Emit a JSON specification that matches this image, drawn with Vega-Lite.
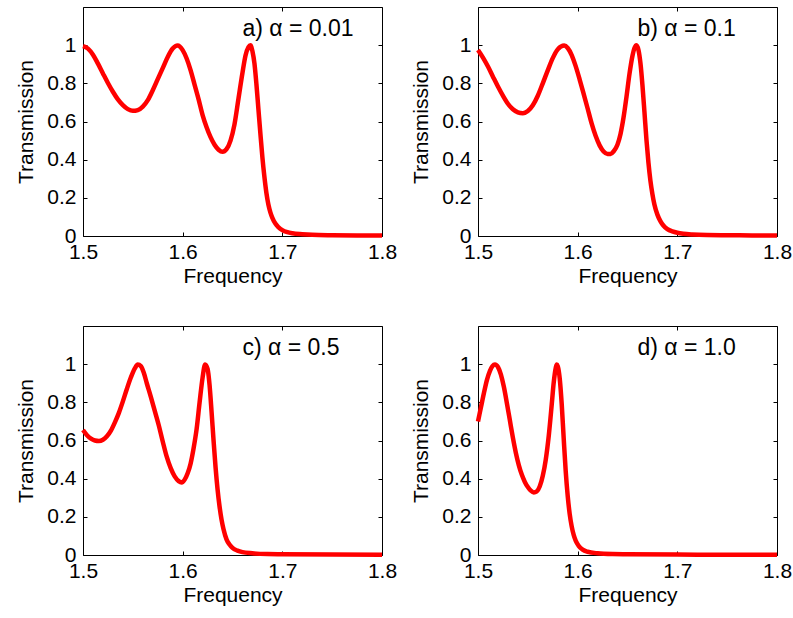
{
  "$schema": "https://vega.github.io/schema/vega-lite/v6.json",
  "background": "white",
  "padding": {"left": 15, "top": 6, "right": 5, "bottom": 5},
  "datasets": {
    "a": [{"f":1.500,"t":0.995},{"f":1.505,"t":0.982},{"f":1.510,"t":0.950},{"f":1.515,"t":0.903},{"f":1.520,"t":0.852},{"f":1.525,"t":0.802},{"f":1.530,"t":0.756},{"f":1.535,"t":0.716},{"f":1.540,"t":0.686},{"f":1.545,"t":0.665},{"f":1.550,"t":0.656},{"f":1.555,"t":0.660},{"f":1.560,"t":0.678},{"f":1.565,"t":0.712},{"f":1.570,"t":0.764},{"f":1.575,"t":0.822},{"f":1.580,"t":0.880},{"f":1.585,"t":0.938},{"f":1.590,"t":0.982},{"f":1.595,"t":0.998},{"f":1.600,"t":0.974},{"f":1.604,"t":0.930},{"f":1.608,"t":0.868},{"f":1.612,"t":0.792},{"f":1.616,"t":0.716},{"f":1.620,"t":0.634},{"f":1.624,"t":0.570},{"f":1.628,"t":0.518},{"f":1.632,"t":0.478},{"f":1.636,"t":0.452},{"f":1.640,"t":0.441},{"f":1.644,"t":0.455},{"f":1.648,"t":0.500},{"f":1.652,"t":0.585},{"f":1.656,"t":0.720},{"f":1.660,"t":0.855},{"f":1.663,"t":0.945},{"f":1.666,"t":0.990},{"f":1.668,"t":1.000},{"f":1.670,"t":0.968},{"f":1.672,"t":0.905},{"f":1.674,"t":0.795},{"f":1.676,"t":0.665},{"f":1.678,"t":0.535},{"f":1.680,"t":0.412},{"f":1.682,"t":0.310},{"f":1.684,"t":0.226},{"f":1.686,"t":0.165},{"f":1.688,"t":0.124},{"f":1.690,"t":0.095},{"f":1.693,"t":0.065},{"f":1.696,"t":0.047},{"f":1.700,"t":0.031},{"f":1.705,"t":0.020},{"f":1.710,"t":0.014},{"f":1.720,"t":0.009},{"f":1.730,"t":0.006},{"f":1.750,"t":0.004},{"f":1.775,"t":0.003},{"f":1.800,"t":0.002}],
    "b": [{"f":1.500,"t":0.975},{"f":1.505,"t":0.935},{"f":1.510,"t":0.888},{"f":1.515,"t":0.835},{"f":1.520,"t":0.783},{"f":1.525,"t":0.735},{"f":1.530,"t":0.693},{"f":1.535,"t":0.664},{"f":1.540,"t":0.648},{"f":1.545,"t":0.643},{"f":1.550,"t":0.655},{"f":1.555,"t":0.685},{"f":1.560,"t":0.735},{"f":1.565,"t":0.800},{"f":1.570,"t":0.868},{"f":1.575,"t":0.932},{"f":1.580,"t":0.978},{"f":1.5865,"t":0.998},{"f":1.590,"t":0.985},{"f":1.594,"t":0.948},{"f":1.598,"t":0.890},{"f":1.602,"t":0.820},{"f":1.606,"t":0.745},{"f":1.610,"t":0.668},{"f":1.614,"t":0.590},{"f":1.618,"t":0.525},{"f":1.622,"t":0.475},{"f":1.626,"t":0.443},{"f":1.630,"t":0.430},{"f":1.633,"t":0.430},{"f":1.636,"t":0.443},{"f":1.640,"t":0.480},{"f":1.643,"t":0.535},{"f":1.646,"t":0.620},{"f":1.649,"t":0.730},{"f":1.652,"t":0.850},{"f":1.655,"t":0.945},{"f":1.657,"t":0.985},{"f":1.659,"t":1.000},{"f":1.661,"t":0.975},{"f":1.663,"t":0.905},{"f":1.665,"t":0.790},{"f":1.667,"t":0.650},{"f":1.669,"t":0.505},{"f":1.671,"t":0.385},{"f":1.673,"t":0.290},{"f":1.675,"t":0.220},{"f":1.677,"t":0.165},{"f":1.680,"t":0.112},{"f":1.683,"t":0.078},{"f":1.686,"t":0.055},{"f":1.690,"t":0.036},{"f":1.695,"t":0.024},{"f":1.700,"t":0.017},{"f":1.706,"t":0.012},{"f":1.715,"t":0.008},{"f":1.730,"t":0.005},{"f":1.750,"t":0.004},{"f":1.775,"t":0.003},{"f":1.800,"t":0.002}],
    "c": [{"f":1.500,"t":0.655},{"f":1.504,"t":0.628},{"f":1.508,"t":0.610},{"f":1.512,"t":0.600},{"f":1.516,"t":0.597},{"f":1.520,"t":0.604},{"f":1.524,"t":0.622},{"f":1.528,"t":0.652},{"f":1.532,"t":0.695},{"f":1.536,"t":0.745},{"f":1.540,"t":0.805},{"f":1.544,"t":0.870},{"f":1.548,"t":0.930},{"f":1.552,"t":0.978},{"f":1.555,"t":0.998},{"f":1.558,"t":0.990},{"f":1.561,"t":0.955},{"f":1.564,"t":0.900},{"f":1.568,"t":0.830},{"f":1.572,"t":0.755},{"f":1.576,"t":0.680},{"f":1.580,"t":0.595},{"f":1.584,"t":0.515},{"f":1.588,"t":0.455},{"f":1.592,"t":0.412},{"f":1.596,"t":0.387},{"f":1.599,"t":0.380},{"f":1.602,"t":0.395},{"f":1.605,"t":0.428},{"f":1.608,"t":0.480},{"f":1.611,"t":0.560},{"f":1.614,"t":0.660},{"f":1.617,"t":0.800},{"f":1.620,"t":0.930},{"f":1.6225,"t":0.998},{"f":1.625,"t":0.975},{"f":1.627,"t":0.890},{"f":1.629,"t":0.750},{"f":1.631,"t":0.600},{"f":1.633,"t":0.460},{"f":1.635,"t":0.345},{"f":1.637,"t":0.255},{"f":1.639,"t":0.185},{"f":1.641,"t":0.135},{"f":1.644,"t":0.082},{"f":1.647,"t":0.055},{"f":1.650,"t":0.037},{"f":1.655,"t":0.023},{"f":1.660,"t":0.015},{"f":1.670,"t":0.009},{"f":1.685,"t":0.005},{"f":1.700,"t":0.004},{"f":1.750,"t":0.002},{"f":1.800,"t":0.001}],
    "d": [{"f":1.500,"t":0.700},{"f":1.503,"t":0.775},{"f":1.506,"t":0.850},{"f":1.509,"t":0.918},{"f":1.512,"t":0.965},{"f":1.5145,"t":0.990},{"f":1.517,"t":0.998},{"f":1.520,"t":0.985},{"f":1.523,"t":0.945},{"f":1.526,"t":0.880},{"f":1.529,"t":0.795},{"f":1.532,"t":0.705},{"f":1.535,"t":0.615},{"f":1.538,"t":0.535},{"f":1.541,"t":0.470},{"f":1.544,"t":0.420},{"f":1.547,"t":0.383},{"f":1.550,"t":0.356},{"f":1.553,"t":0.337},{"f":1.556,"t":0.328},{"f":1.559,"t":0.333},{"f":1.562,"t":0.360},{"f":1.565,"t":0.415},{"f":1.568,"t":0.500},{"f":1.571,"t":0.625},{"f":1.574,"t":0.790},{"f":1.576,"t":0.905},{"f":1.578,"t":0.980},{"f":1.579,"t":0.998},{"f":1.580,"t":0.990},{"f":1.582,"t":0.925},{"f":1.584,"t":0.790},{"f":1.586,"t":0.610},{"f":1.588,"t":0.440},{"f":1.590,"t":0.310},{"f":1.592,"t":0.215},{"f":1.594,"t":0.150},{"f":1.596,"t":0.105},{"f":1.598,"t":0.075},{"f":1.601,"t":0.048},{"f":1.605,"t":0.028},{"f":1.610,"t":0.017},{"f":1.620,"t":0.009},{"f":1.635,"t":0.005},{"f":1.650,"t":0.004},{"f":1.700,"t":0.002},{"f":1.750,"t":0.001},{"f":1.800,"t":0.001}]
  },
  "concat": [
    {
      "width": 299, "height": 229,
      "layer": [
        {"data": {"name": "a"}, "mark": {"type": "line", "color": "#ff0000", "strokeWidth": 4.5, "interpolate": "monotone"},
         "encoding": {"x": {"field": "f", "type": "quantitative", "scale": {"domain": [1.5, 1.8], "nice": false}, "axis": {"title": "Frequency", "values": [1.5, 1.6, 1.7, 1.8]}},
                      "y": {"field": "t", "type": "quantitative", "scale": {"domain": [0, 1.2], "nice": false}, "axis": {"title": "Transmission", "values": [0, 0.2, 0.4, 0.6, 0.8, 1]}}}},
        {"data": {"name": "a"}, "mark": {"type": "line", "opacity": 0},
         "encoding": {"x": {"field": "f", "type": "quantitative", "scale": {"domain": [1.5, 1.8], "nice": false}, "axis": {"orient": "top", "labels": false, "title": null, "values": [1.5, 1.6, 1.7, 1.8]}},
                      "y": {"field": "t", "type": "quantitative", "scale": {"domain": [0, 1.2], "nice": false}, "axis": {"orient": "right", "labels": false, "title": null, "values": [0, 0.2, 0.4, 0.6, 0.8, 1]}}}},
        {"data": {"values": [{"label": "a) α = 0.01"}]}, "mark": {"type": "text", "align": "left", "baseline": "alphabetic", "fontSize": 23, "font": "Liberation Sans", "color": "#000"},
         "encoding": {"x": {"datum": 1.66, "type": "quantitative", "axis": null}, "y": {"datum": 1.05, "type": "quantitative", "axis": null}, "text": {"field": "label"}}}
      ],
      "resolve": {"axis": {"x": "independent", "y": "independent"}}
    },
    {
      "width": 299, "height": 229,
      "layer": [
        {"data": {"name": "b"}, "mark": {"type": "line", "color": "#ff0000", "strokeWidth": 4.5, "interpolate": "monotone"},
         "encoding": {"x": {"field": "f", "type": "quantitative", "scale": {"domain": [1.5, 1.8], "nice": false}, "axis": {"title": "Frequency", "values": [1.5, 1.6, 1.7, 1.8]}},
                      "y": {"field": "t", "type": "quantitative", "scale": {"domain": [0, 1.2], "nice": false}, "axis": {"title": "Transmission", "values": [0, 0.2, 0.4, 0.6, 0.8, 1]}}}},
        {"data": {"name": "b"}, "mark": {"type": "line", "opacity": 0},
         "encoding": {"x": {"field": "f", "type": "quantitative", "scale": {"domain": [1.5, 1.8], "nice": false}, "axis": {"orient": "top", "labels": false, "title": null, "values": [1.5, 1.6, 1.7, 1.8]}},
                      "y": {"field": "t", "type": "quantitative", "scale": {"domain": [0, 1.2], "nice": false}, "axis": {"orient": "right", "labels": false, "title": null, "values": [0, 0.2, 0.4, 0.6, 0.8, 1]}}}},
        {"data": {"values": [{"label": "b) α = 0.1"}]}, "mark": {"type": "text", "align": "left", "baseline": "alphabetic", "fontSize": 23, "font": "Liberation Sans", "color": "#000"},
         "encoding": {"x": {"datum": 1.66, "type": "quantitative", "axis": null}, "y": {"datum": 1.05, "type": "quantitative", "axis": null}, "text": {"field": "label"}}}
      ],
      "resolve": {"axis": {"x": "independent", "y": "independent"}}
    },
    {
      "width": 299, "height": 229,
      "layer": [
        {"data": {"name": "c"}, "mark": {"type": "line", "color": "#ff0000", "strokeWidth": 4.5, "interpolate": "monotone"},
         "encoding": {"x": {"field": "f", "type": "quantitative", "scale": {"domain": [1.5, 1.8], "nice": false}, "axis": {"title": "Frequency", "values": [1.5, 1.6, 1.7, 1.8]}},
                      "y": {"field": "t", "type": "quantitative", "scale": {"domain": [0, 1.2], "nice": false}, "axis": {"title": "Transmission", "values": [0, 0.2, 0.4, 0.6, 0.8, 1]}}}},
        {"data": {"name": "c"}, "mark": {"type": "line", "opacity": 0},
         "encoding": {"x": {"field": "f", "type": "quantitative", "scale": {"domain": [1.5, 1.8], "nice": false}, "axis": {"orient": "top", "labels": false, "title": null, "values": [1.5, 1.6, 1.7, 1.8]}},
                      "y": {"field": "t", "type": "quantitative", "scale": {"domain": [0, 1.2], "nice": false}, "axis": {"orient": "right", "labels": false, "title": null, "values": [0, 0.2, 0.4, 0.6, 0.8, 1]}}}},
        {"data": {"values": [{"label": "c) α = 0.5"}]}, "mark": {"type": "text", "align": "left", "baseline": "alphabetic", "fontSize": 23, "font": "Liberation Sans", "color": "#000"},
         "encoding": {"x": {"datum": 1.66, "type": "quantitative", "axis": null}, "y": {"datum": 1.05, "type": "quantitative", "axis": null}, "text": {"field": "label"}}}
      ],
      "resolve": {"axis": {"x": "independent", "y": "independent"}}
    },
    {
      "width": 299, "height": 229,
      "layer": [
        {"data": {"name": "d"}, "mark": {"type": "line", "color": "#ff0000", "strokeWidth": 4.5, "interpolate": "monotone"},
         "encoding": {"x": {"field": "f", "type": "quantitative", "scale": {"domain": [1.5, 1.8], "nice": false}, "axis": {"title": "Frequency", "values": [1.5, 1.6, 1.7, 1.8]}},
                      "y": {"field": "t", "type": "quantitative", "scale": {"domain": [0, 1.2], "nice": false}, "axis": {"title": "Transmission", "values": [0, 0.2, 0.4, 0.6, 0.8, 1]}}}},
        {"data": {"name": "d"}, "mark": {"type": "line", "opacity": 0},
         "encoding": {"x": {"field": "f", "type": "quantitative", "scale": {"domain": [1.5, 1.8], "nice": false}, "axis": {"orient": "top", "labels": false, "title": null, "values": [1.5, 1.6, 1.7, 1.8]}},
                      "y": {"field": "t", "type": "quantitative", "scale": {"domain": [0, 1.2], "nice": false}, "axis": {"orient": "right", "labels": false, "title": null, "values": [0, 0.2, 0.4, 0.6, 0.8, 1]}}}},
        {"data": {"values": [{"label": "d) α = 1.0"}]}, "mark": {"type": "text", "align": "left", "baseline": "alphabetic", "fontSize": 23, "font": "Liberation Sans", "color": "#000"},
         "encoding": {"x": {"datum": 1.66, "type": "quantitative", "axis": null}, "y": {"datum": 1.05, "type": "quantitative", "axis": null}, "text": {"field": "label"}}}
      ],
      "resolve": {"axis": {"x": "independent", "y": "independent"}}
    }
  ],
  "columns": 2,
  "spacing": {"row": 90, "column": 96},
  "bounds": "flush",
  "config": {
    "font": "Liberation Sans",
    "view": {"stroke": "#000", "strokeWidth": 1},
    "axis": {
      "domain": false, "grid": false, "ticks": true, "tickSize": -4, "tickColor": "#000", "tickWidth": 1,
      "labelFont": "Liberation Sans", "labelFontSize": 21, "labelColor": "#000", "labelFlush": false, "labelOverlap": false, "format": "~g",
      "titleFont": "Liberation Sans", "titleFontSize": 21, "titleFontWeight": "normal", "titleColor": "#000"
    },
    "axisX": {"labelPadding": 9.5, "titlePadding": 3},
    "axisY": {"labelPadding": 11, "titlePadding": 10}
  }
}
